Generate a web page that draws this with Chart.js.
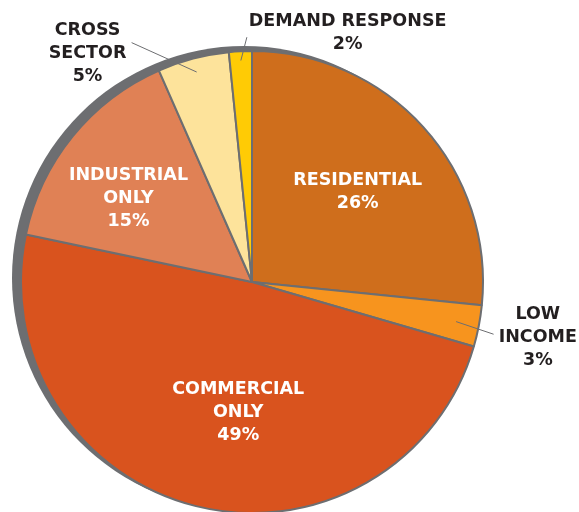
<!DOCTYPE html>
<html>
<head>
<meta charset="utf-8">
<script src="https://cdn.jsdelivr.net/npm/chart.js@4.4.1/dist/chart.umd.min.js"></script>
<style>
  html, body { margin: 0; padding: 0; background: #fff; overflow: hidden; }
  #wrap { width: 579px; height: 516px; position: relative; }
</style>
</head>
<body>
<div id="wrap"><canvas id="pie"></canvas></div>
<script>
// slice data, clockwise from 12 o'clock
const sectors = ["RESIDENTIAL", "LOW INCOME", "COMMERCIAL ONLY", "INDUSTRIAL ONLY", "CROSS SECTOR", "DEMAND RESPONSE"];
const shares = [26.6, 2.9, 48.8, 15.1, 5.0, 1.6];
const shareLabels = ["26%", "3%", "49%", "15%", "5%", "2%"];
const labelLines = [
  ["RESIDENTIAL"],
  ["LOW", "INCOME"],
  ["COMMERCIAL", "ONLY"],
  ["INDUSTRIAL", "ONLY"],
  ["CROSS", "SECTOR"],
  ["DEMAND RESPONSE"],
];
const sliceColors = ["#cf6e1c", "#f7941e", "#d9531e", "#e08155", "#fde39b", "#ffcb05"];

const EDGE = "#6d6e71";
const FONT = "bold 17.5px 'DejaVu Sans', sans-serif";

// where each label goes: polar angle (deg from 12 o'clock) and radius factor
// leader: [from r-factor, to angle, to r-factor] for labels placed outside
const placement = [
  { a: 49.7, r: 0.60, inside: true },
  { a: 100.9, r: 1.26, leader: [0.90, 102.2, 1.07] },
  { a: 186.0, r: 0.57, inside: true },
  { a: 304.0, r: 0.645, inside: true },
  { a: 324.3, r: 1.22, leader: [0.94, 333.3, 1.16] },
  { a: 21.0, r: 1.155, leader: [0.96, 358.8, 1.06] },
];

function polar(cx, cy, deg, rad) {
  const t = (deg - 90) * Math.PI / 180;
  return { x: cx + Math.cos(t) * rad, y: cy + Math.sin(t) * rad };
}

const pieDecor = {
  id: "pieDecor",
  beforeDatasetsDraw(chart) {
    const arc = chart.getDatasetMeta(0).data[0];
    const { x, y, outerRadius } = arc.getProps(["x", "y", "outerRadius"], true);
    const ctx = chart.ctx;
    ctx.save();
    ctx.fillStyle = EDGE;
    ctx.beginPath();
    ctx.arc(x - 8, y - 4, outerRadius + 1, 0, Math.PI * 2);
    ctx.fill();
    ctx.restore();
  },
  afterDatasetsDraw(chart) {
    const meta = chart.getDatasetMeta(0);
    const { x, y, outerRadius } = meta.data[0].getProps(["x", "y", "outerRadius"], true);
    const ctx = chart.ctx;
    ctx.save();
    ctx.font = FONT;
    ctx.textAlign = "center";
    ctx.textBaseline = "middle";
    placement.forEach((p, i) => {
      const lines = labelLines[i].concat([shareLabels[i]]);
      const c = polar(x, y, p.a, outerRadius * p.r);
      const lh = 23;
      const top = c.y - (lines.length - 1) * lh / 2;
      ctx.fillStyle = p.inside ? "#ffffff" : "#231f20";
      lines.forEach((t, k) => ctx.fillText(t, c.x, top + k * lh));
      if (p.leader) {
        const mid = meta.data[i];
        const { startAngle, endAngle } = mid.getProps(["startAngle", "endAngle"], true);
        const midDeg = ((startAngle + endAngle) / 2) * 180 / Math.PI + 90;
        const a = polar(x, y, midDeg, outerRadius * p.leader[0]);
        const b = polar(x, y, p.leader[1], outerRadius * p.leader[2]);
        ctx.strokeStyle = EDGE;
        ctx.lineWidth = 1;
        ctx.beginPath();
        ctx.moveTo(a.x, a.y);
        ctx.lineTo(b.x, b.y);
        ctx.stroke();
      }
    });
    ctx.restore();
  },
};

new Chart(document.getElementById("pie"), {
  type: "pie",
  data: {
    labels: sectors,
    datasets: [{
      data: shares,
      backgroundColor: sliceColors,
      borderColor: EDGE,
      borderWidth: 2,
    }],
  },
  options: {
    responsive: true,
    maintainAspectRatio: false,
    animation: false,
    layout: { padding: { left: 20, right: 95, top: 49, bottom: 1 } },
    plugins: {
      legend: { display: false },
      tooltip: { enabled: false },
    },
  },
  plugins: [pieDecor],
});
</script>
</body>
</html>
